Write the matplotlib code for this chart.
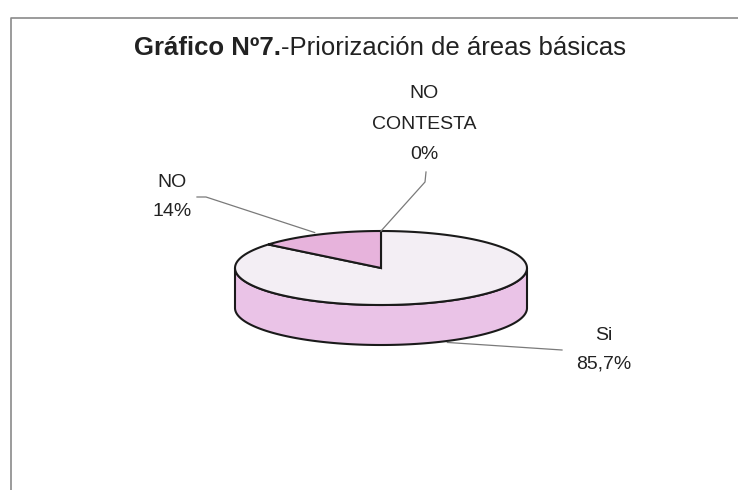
import matplotlib
matplotlib.use("Agg")
import matplotlib.pyplot as plt
from matplotlib.patches import Polygon
import numpy as np

# data
labels = ["Si", "NO", "NO\nCONTESTA"]
values = [85.7, 14, 0]
pct_text = ["85,7%", "14%", "0%"]
top_colors = ["#f3eef4", "#e7b3dc", "#d9a0cf"]
side_color = "#eac3e7"
title_bold = "Gráfico Nº7."
title_rest = "-Priorización de áreas básicas"

plt.rcParams['font.family'] = ['Liberation Sans', 'DejaVu Sans']

W, H = 738, 490
fig = plt.figure(figsize=(W / 100, H / 100), dpi=100)
ax = fig.add_axes([0, 0, 1, 1])
ax.set_xlim(0, W)
ax.set_ylim(H, 0)
ax.axis("off")

# frame (right and bottom run off the page)
ax.plot([10.5, 10.5, W + 5], [H + 5, 18.5, 18.5], color="#8a8a8a", lw=1.2)

# pie geometry (pixels)
cx, cy, rx, ry, depth = 381, 268, 146, 37, 40


def pt(a, dy=0):
    a = np.radians(a)
    return cx + rx * np.cos(a), cy - ry * np.sin(a) + dy


def arc(a0, a1, dy=0, n=120):
    t = np.linspace(a0, a1, n)
    return np.column_stack([cx + rx * np.cos(np.radians(t)),
                            cy - ry * np.sin(np.radians(t)) + dy])


edge = "#1a1a1a"
# side of the cylinder (front half)
front_top = arc(180, 360)
front_bot = arc(360, 180, dy=depth)
ax.add_patch(Polygon(np.vstack([front_top, front_bot]), closed=True,
                     facecolor=side_color, edgecolor=edge, lw=1.5, zorder=2))

# slices, clockwise from 12 o'clock
total = sum(values)
start = 90.0
mids = []
for v, c in zip(values, top_colors):
    sweep = 360.0 * v / total
    end = start - sweep
    mids.append(start - sweep / 2)
    if sweep > 0:
        pts = np.vstack([[cx, cy], arc(start, end)])
        ax.add_patch(Polygon(pts, closed=True, facecolor=c,
                             edgecolor=edge, lw=1.5, zorder=3))
    start = end

# labels and leader lines
lc = "#7a7a7a"
tc = "#222222"
fs = 14

# Si
x0, y0 = pt(mids[0], dy=depth)
ax.plot([x0 + 4, 562], [y0 + 1, 350], color=lc, lw=0.9, zorder=4)
ax.text(604, 335, labels[0], ha="center", va="center", fontsize=fs, color=tc)
ax.text(604, 364, pct_text[0], ha="center", va="center", fontsize=fs, color=tc)

# NO
x1, y1 = pt(mids[1])
ax.plot([197, 206, x1 - 4], [197, 197, y1 - 2], color=lc, lw=0.9, zorder=4)
ax.text(172, 182, labels[1], ha="center", va="center", fontsize=fs, color=tc)
ax.text(172, 211, pct_text[1], ha="center", va="center", fontsize=fs, color=tc)

# NO CONTESTA
x2, y2 = pt(mids[2])
ax.plot([426, 425, x2], [172, 182, y2], color=lc, lw=0.9, zorder=4)
for i, s in enumerate(labels[2].split("\n") + [pct_text[2]]):
    ax.text(424, 94 + 30 * i, s, ha="center", va="center", fontsize=fs, color=tc)

# title: bold part + regular part
tb = ax.text(0, 0, title_bold, fontsize=18.5, fontweight="bold", color=tc)
tr = ax.text(0, 0, title_rest, fontsize=18.5, color=tc)
fig.canvas.draw()
r = fig.canvas.get_renderer()
wb = tb.get_window_extent(r).width
wr = tr.get_window_extent(r).width
left = 380 - (wb + wr) / 2
tb.set_position((left, 48))
tb.set_va("center")
tr.set_position((left + wb, 48))
tr.set_va("center")

fig.savefig("out.png", dpi=100, facecolor="white")
